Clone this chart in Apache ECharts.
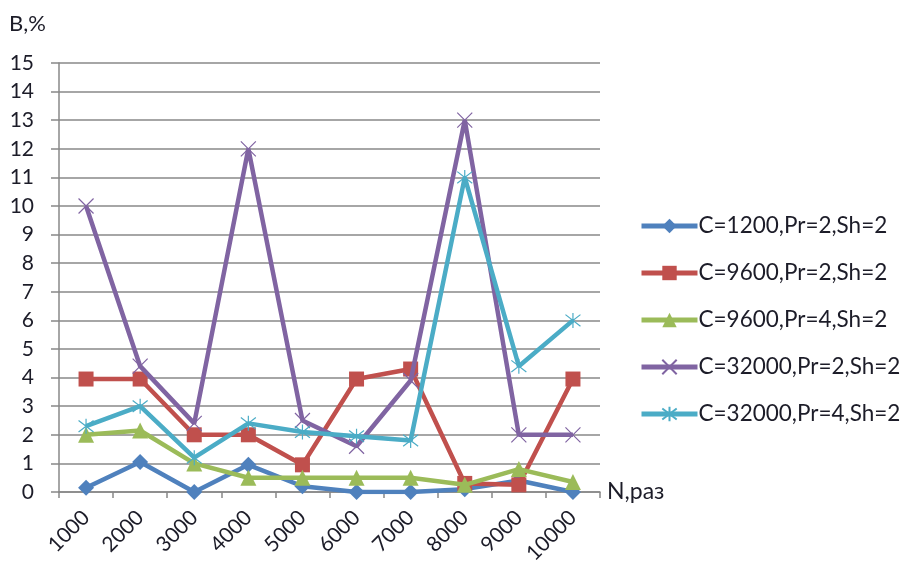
<!DOCTYPE html>
<html><head><meta charset="utf-8">
<script src="https://cdn.jsdelivr.net/npm/echarts@6/dist/echarts.min.js"></script>
<style>html,body{margin:0;padding:0;background:#fff}#c{width:905px;height:569px}</style>
</head><body><div id="c"></div>
<script>
var categories = ['1000','2000','3000','4000','5000','6000','7000','8000','9000','10000'];
var yTicks = [0,1,2,3,4,5,6,7,8,9,10,11,12,13,14,15];
var names = ['C=1200,Pr=2,Sh=2','C=9600,Pr=2,Sh=2','C=9600,Pr=4,Sh=2','C=32000,Pr=2,Sh=2','C=32000,Pr=4,Sh=2'];
var s1200 = [0.15, 1.05, 0, 0.95, 0.2, 0, 0, 0.1, 0.4, 0];
var s9600pr2 = [3.95, 3.95, 2.0, 2.0, 0.95, 3.95, 4.3, 0.3, 0.25, 3.95];
var s9600pr4 = [2.0, 2.15, 1.0, 0.5, 0.5, 0.5, 0.5, 0.25, 0.8, 0.35];
var s32000pr2 = [10.0, 4.4, 2.4, 12.0, 2.5, 1.6, 3.9, 13.0, 2.0, 2.0];
var s32000pr4 = [2.3, 3.0, 1.2, 2.4, 2.1, 1.95, 1.8, 11.0, 4.4, 6.0];

var colors = ['#4F81BD','#C0504D','#9BBB59','#8064A2','#4BACC6'];
var font = 'Lato, "Open Sans", sans-serif';
var txt = '#1c1c28';
var chart = echarts.init(document.getElementById('c'), null, {renderer:'canvas'});
function ser(i, data, symbol, size, stroke){
  var it = {color: colors[i]};
  if (stroke){ it.borderColor = colors[i]; it.borderWidth = 1.2; }
  return {name: names[i], type:'line', data: data, symbol: symbol, symbolSize: size,
    lineStyle:{width:4.5, color: colors[i]}, itemStyle: it, animation:false, z: 2+i};
}
chart.setOption({
  animation:false,
  grid:{left:59, top:63, width:541, height:429, containLabel:false},
  legend:{orient:'vertical', left:634, top:209, itemWidth:56, itemHeight:18, itemGap:23,
    lineStyle:{width:5},
    textStyle:{fontFamily:font, fontSize:22.5, lineHeight:24, color:txt, padding:[0,0,0,-4]},
    data:names},
  xAxis:{type:'category', data:categories, boundaryGap:true,
    name:'N,раз', nameLocation:'end', nameGap:7,
    nameTextStyle:{fontFamily:font, fontSize:23, color:txt, verticalAlign:'middle', padding:[8,0,0,0]},
    axisLine:{lineStyle:{color:'#888', width:1.5}},
    axisTick:{show:true, length:6, lineStyle:{color:'#888', width:1.5}},
    axisLabel:{rotate:45, fontFamily:font, fontSize:21, color:txt, margin:22, interval:0}},
  yAxis:{type:'value', min:0, max:15, interval:1,
    name:'B,%', nameLocation:'end', nameGap:0,
    nameTextStyle:{fontFamily:font, fontSize:22, color:txt, align:'left', padding:[0,0,28,-50]},
    axisLine:{show:true, lineStyle:{color:'#888', width:1.5}},
    axisTick:{show:true, length:8, lineStyle:{color:'#888', width:1.5}},
    splitLine:{lineStyle:{color:'#888', width:1.5}},
    axisLabel:{fontFamily:font, fontSize:21, color:txt, margin:25, align:'right',
      formatter:function(v){return yTicks.indexOf(v)>=0 ? String(v) : '';}}},
  series:[
    ser(0, s1200, 'diamond', 16),
    ser(1, s9600pr2, 'rect', 15),
    ser(2, s9600pr4, 'triangle', 16),
    ser(3, s32000pr2, 'path://M0,0L10,10M10,0L0,10', 15, true),
    ser(4, s32000pr4, 'path://M0,0L10,10M10,0L0,10M5,-1.5L5,11.5', 15, true)
  ]
});
</script></body></html>
